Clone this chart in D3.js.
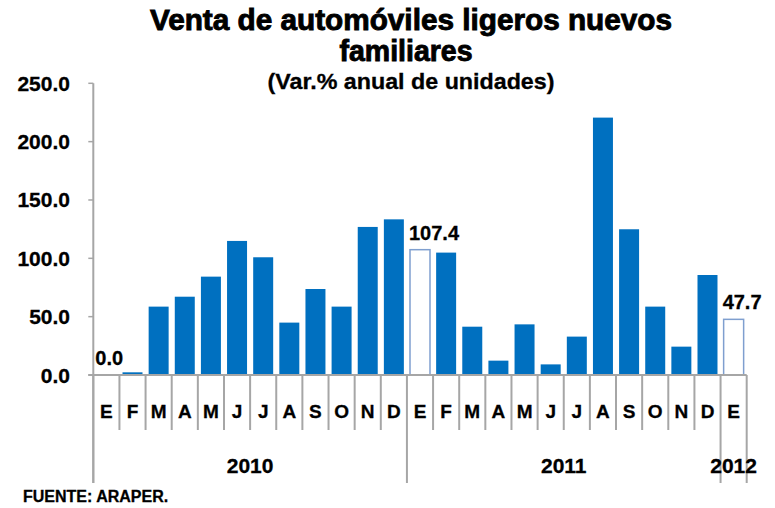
<!DOCTYPE html>
<html>
<head>
<meta charset="utf-8">
<script src="https://cdn.jsdelivr.net/npm/d3@7"></script>
<style>
  body { margin: 0; background: #fff; }
  text { font-family: "Liberation Sans", Arial, sans-serif; font-weight: bold; fill: #000;
         stroke: #000; stroke-width: 0.3px; }
  text.title { stroke-width: 0.9px; }
</style>
</head>
<body>
<div id="chart"></div>
<script>
// data
var months = ["E","F","M","A","M","J","J","A","S","O","N","D",
              "E","F","M","A","M","J","J","A","S","O","N","D","E"];
var values = [0.0, 2.3, 58.6, 67.1, 84.3, 114.9, 100.9, 44.9, 73.7, 58.6, 126.9, 133.4,
              107.4, 104.9, 41.4, 12.3, 43.4, 9.1, 32.9, 220.6, 124.9, 58.6, 24.3, 85.7,
              47.7];
var years = ["2010", "2011", "2012"];
var monthsPerYear = [12, 12, 1];
var hollowBars = [12, 24];          // outlined (white) bars
var labelledBars = [0, 12, 24];     // bars with value label
var yTicks = [0, 50, 100, 150, 200, 250];

var W = 775, H = 508;
var x0 = 93.3, x1 = 746.7, yTop = 83.3, yBase = 375;

var svg = d3.select("#chart")
  .append("svg")
    .attr("width", W)
    .attr("height", H);

// scales
var x = d3.scaleBand()
  .domain(d3.range(values.length))
  .range([x0, x1])
  .paddingInner(0.235)
  .paddingOuter(0.1175);
var step = x.step();

var y = d3.scaleLinear()
  .domain([0, 250])
  .range([yBase, yTop]);

var fmt = d3.format(".1f");
var axisColor = "#a6a6a6";

// title
svg.append("text")
  .attr("class", "title")
  .attr("x", 411).attr("y", 30)
  .attr("text-anchor", "middle")
  .attr("textLength", 522).attr("lengthAdjust", "spacingAndGlyphs")
  .style("font-size", "29px")
  .text("Venta de automóviles ligeros nuevos");
svg.append("text")
  .attr("class", "title")
  .attr("x", 406).attr("y", 61)
  .attr("text-anchor", "middle")
  .attr("textLength", 133).attr("lengthAdjust", "spacingAndGlyphs")
  .style("font-size", "29px")
  .text("familiares");
svg.append("text")
  .attr("x", 411).attr("y", 89)
  .attr("text-anchor", "middle")
  .attr("textLength", 287).attr("lengthAdjust", "spacingAndGlyphs")
  .style("font-size", "22px")
  .text("(Var.% anual de unidades)");

// bars
svg.append("g")
  .selectAll("rect")
  .data(values)
  .enter()
  .append("rect")
    .attr("x", function(d, i) { return x(i); })
    .attr("y", function(d) { return y(d); })
    .attr("width", x.bandwidth())
    .attr("height", function(d) { return yBase - y(d); })
    .style("fill", function(d, i) { return hollowBars.indexOf(i) >= 0 ? "#ffffff" : "#0070c0"; })
    .style("stroke", function(d, i) { return hollowBars.indexOf(i) >= 0 ? "#7f9fcf" : "none"; })
    .style("stroke-width", 1.5);

// value labels
svg.append("g")
  .selectAll("text")
  .data(labelledBars)
  .enter()
  .append("text")
    .attr("x", function(i) { return x(i) - 1; })
    .attr("y", function(i) { return y(values[i]) - 10; })
    .style("font-size", "20px")
    .text(function(i) { return fmt(values[i]); });

// y axis
var yAxis = svg.append("g");
yAxis.append("line")
  .attr("x1", x0).attr("x2", x0)
  .attr("y1", yTop).attr("y2", 483)
  .style("stroke", axisColor).style("stroke-width", 2);
yAxis.selectAll(".ytick")
  .data(yTicks)
  .enter()
  .append("line")
    .attr("x1", x0 - 5).attr("x2", x0)
    .attr("y1", function(d) { return y(d); })
    .attr("y2", function(d) { return y(d); })
    .style("stroke", axisColor).style("stroke-width", 1.5);
yAxis.selectAll(".ylab")
  .data(yTicks)
  .enter()
  .append("text")
    .attr("x", 70)
    .attr("y", function(d) { return y(d) + 7.5; })
    .attr("text-anchor", "end")
    .style("font-size", "21px")
    .text(function(d) { return fmt(d); });

// x axis
var xAxis = svg.append("g");
xAxis.append("line")
  .attr("x1", x0 - 5).attr("x2", x1)
  .attr("y1", yBase).attr("y2", yBase)
  .style("stroke", axisColor).style("stroke-width", 2);

// separators: long at year boundaries, short between months
var yearEdges = [0];
monthsPerYear.forEach(function(n) { yearEdges.push(yearEdges[yearEdges.length - 1] + n); });

xAxis.selectAll(".xtick")
  .data(d3.range(values.length + 1))
  .enter()
  .append("line")
    .attr("x1", function(i) { return x0 + i * step; })
    .attr("x2", function(i) { return x0 + i * step; })
    .attr("y1", yBase)
    .attr("y2", function(i) { return yearEdges.indexOf(i) >= 0 ? 483 : 430; })
    .style("stroke", axisColor).style("stroke-width", 2);

xAxis.selectAll(".mlab")
  .data(months)
  .enter()
  .append("text")
    .attr("x", function(d, i) { return x0 + (i + 0.5) * step; })
    .attr("y", 418)
    .attr("text-anchor", "middle")
    .style("font-size", "19px")
    .text(function(d) { return d; });

xAxis.selectAll(".ylabel")
  .data(years)
  .enter()
  .append("text")
    .attr("x", function(d, i) { return x0 + (yearEdges[i] + yearEdges[i + 1]) / 2 * step; })
    .attr("y", 473)
    .attr("text-anchor", "middle")
    .style("font-size", "21px")
    .text(function(d) { return d; });

// source
svg.append("text")
  .attr("x", 23).attr("y", 501.5)
  .style("font-size", "16px")
  .text("FUENTE: ARAPER.");
</script>
</body>
</html>
